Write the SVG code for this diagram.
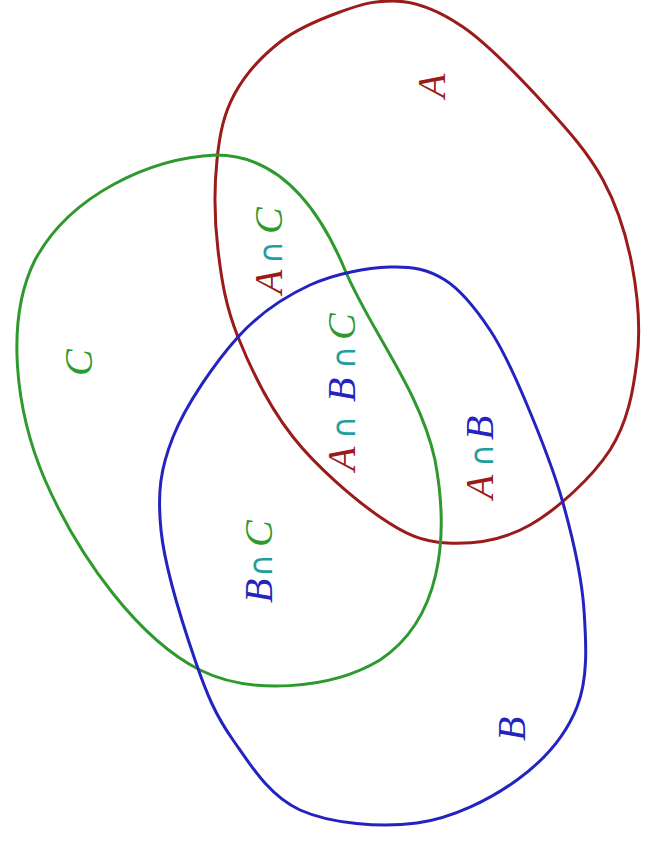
<svg xmlns="http://www.w3.org/2000/svg" width="646" height="842" viewBox="0 0 646 842">
<style>
.set{fill:none;stroke-width:3}
.lbl{font-family:"Liberation Serif","DejaVu Serif",serif;font-style:italic;font-size:40px}
.op{font-family:"DejaVu Sans","Liberation Sans",sans-serif;font-style:normal;font-size:32px;fill:#1e9e9e}
.r{fill:#9b1b1b}.g{fill:#2e9a2e}.b{fill:#2323c0}
</style>
<rect width="646" height="842" fill="#fff"/>
<g id="connectors"/>
<g id="setA">
<path class="set" stroke="#9b1b1b" d="M 393,1 C 416,1 437.7,9.7 463,27 C 488.3,44.3 521.7,79.5 545,105 C 568.3,130.5 588.5,153.3 603,180 C 617.5,206.7 626.3,235 632,265 C 637.7,295 640.7,329.2 637,360 C 633.3,390.8 627.8,422.5 610,450 C 592.2,477.5 557.2,509.5 530,525 C 502.8,540.5 472,544.3 447,543 C 422,541.7 405.7,534.7 380,517 C 354.3,499.3 316.7,467 293,437 C 269.3,407 250.5,368.2 238,337 C 225.5,305.8 221.5,279.5 218,250 C 214.5,220.5 214.3,185.8 217,160 C 219.7,134.2 223.5,114.7 234,95 C 244.5,75.3 262.3,55.8 280,42 C 297.7,28.2 321.2,18.8 340,12 C 358.8,5.2 370,1 393,1 Z"/>
<text class="lbl r" transform="translate(445,98) rotate(-90)">A</text>
</g>
<g id="setC">
<path class="set" stroke="#2e9a2e" d="M 216,155 C 280,155 320,210 345,270 C 370,330 420,390 435,460 C 450,540 440,620 380,660 C 330,690 250,695 200,670 C 140,640 80,560 45,480 C 15,410 5,320 35,260 C 70,195 150,158 216,155 Z"/>
<text class="lbl g" transform="translate(92,376) rotate(-90)">C</text>
</g>
<g id="setB">
<path class="set" stroke="#2323c0" d="M 390,267 C 412.5,266.2 428.3,269.5 445,280 C 461.7,290.5 476.7,310 490,330 C 503.3,350 512.8,371.2 525,400 C 537.2,428.8 553.2,468 563,503 C 572.8,538 581.7,576 584,610 C 586.3,644 588.2,678.7 577,707 C 565.8,735.3 543.7,760.7 517,780 C 490.3,799.3 453.2,818 417,823 C 380.8,828 330.7,823.8 300,810 C 269.3,796.2 250.5,765 233,740 C 215.5,715 207,695 195,660 C 183,625 164.7,567.2 161,530 C 157.3,492.8 160.2,469.2 173,437 C 185.8,404.8 215.2,362.3 238,337 C 260.8,311.7 284.7,296.7 310,285 C 335.3,273.3 367.5,267.8 390,267 Z"/>
<text class="lbl b" transform="translate(525,741) rotate(-90)">B</text>
</g>
<g id="AC">
<text class="lbl" transform="translate(282,294) rotate(-90)"><tspan class="r" x="0">A</tspan><tspan class="op" x="30">∩</tspan><tspan class="g" x="60">C</tspan></text>
</g>
<g id="ABC">
<text class="lbl" transform="translate(355,471) rotate(-90)"><tspan class="r" x="0">A</tspan><tspan class="op" x="32">∩</tspan><tspan class="b" x="69">B</tspan><tspan class="op" x="102">∩</tspan><tspan class="g" x="131">C</tspan></text>
</g>
<g id="AB">
<text class="lbl" transform="translate(493,499) rotate(-90)"><tspan class="r" x="0">A</tspan><tspan class="op" x="32">∩</tspan><tspan class="b" x="59">B</tspan></text>
</g>
<g id="BC">
<text class="lbl" transform="translate(272,603) rotate(-90)"><tspan class="b" x="0">B</tspan><tspan class="op" x="26">∩</tspan><tspan class="g" x="56">C</tspan></text>
</g>
</svg>
